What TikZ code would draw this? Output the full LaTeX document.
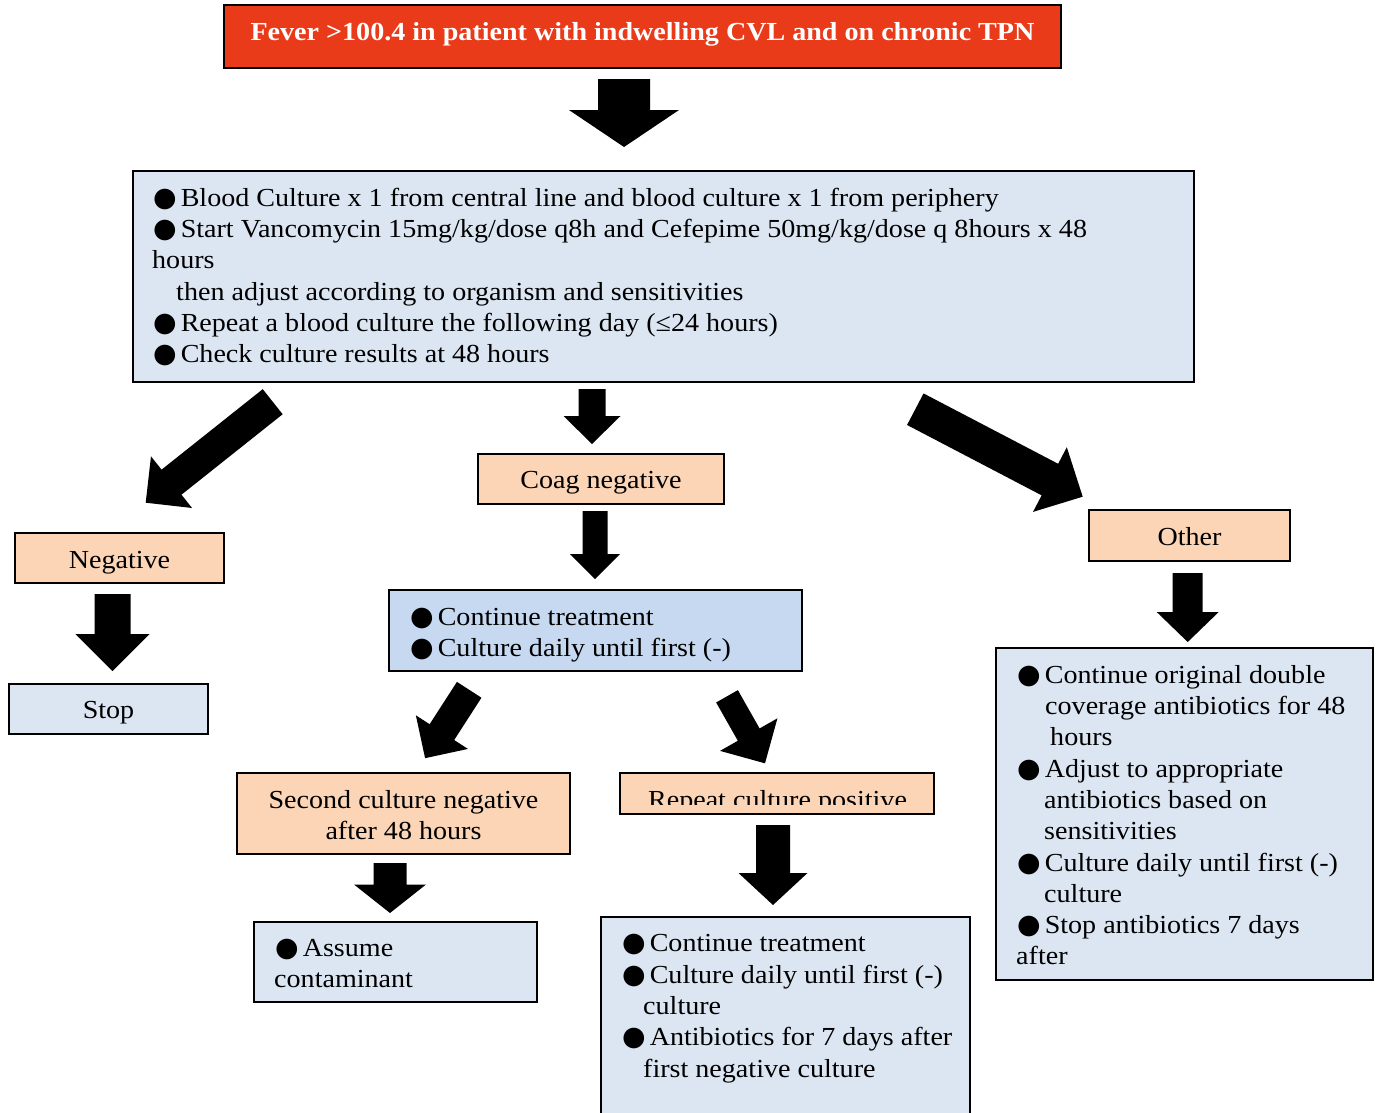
\documentclass[tikz,border=0pt]{standalone}
\usepackage{fontspec}
\setmainfont{Liberation Serif}[FakeStretch=1.08]
\newfontfamily\symfont{DejaVu Sans}
\usetikzlibrary{calc}

\definecolor{titlered}{RGB}{233,58,26}
\definecolor{paleblue}{RGB}{220,230,242}
\definecolor{midblue}{RGB}{198,217,241}
\definecolor{peach}{RGB}{251,213,181}

% large round bullet followed by a small gap
\newcommand\bul{{\fontsize{27}{27}\symfont ●}\hspace{4pt}}

% thick block arrow from coordinate #1 to coordinate #2
% #3 half shaft width, #4 half head width, #5 head length
\newcommand\blockarrow[5]{%
  \fill[black] let \p1=(#1), \p2=(#2),
    \n1={atan2(\y2-\y1,\x2-\x1)}, \n2={veclen(\x2-\x1,\y2-\y1)} in
    [shift={(\p1)}, rotate=\n1]
    (0,#3) -- ({\n2-#5},#3) -- ({\n2-#5},#4) -- (\n2,0)
    -- ({\n2-#5},-#4) -- ({\n2-#5},-#3) -- (0,-#3) -- cycle;}

\begin{document}
\begin{tikzpicture}[x=1pt,y=-1pt,
  box/.style={draw=black, line width=1.6pt, inner sep=0pt},
  txt/.style={anchor=base west, inner sep=0pt, font=\fontsize{26}{31}\selectfont},
  ctxt/.style={anchor=base, inner sep=0pt, font=\fontsize{26}{31}\selectfont}]

\useasboundingbox (0,0) rectangle (1376,1112);
\clip (0,0) rectangle (1376,1112);
\fill[white] (0,0) rectangle (1376,1112);

% ---- boxes
\node[box, fill=titlered, minimum width=837pt, minimum height=63pt] (title) at (642.5,36.5) {};
\node[box, fill=paleblue, minimum width=1061pt, minimum height=211pt] (main) at (663.5,276.5) {};
\node[box, fill=peach, minimum width=246pt, minimum height=50pt] (coag) at (601,479) {};
\node[box, fill=peach, minimum width=209pt, minimum height=50pt] (neg) at (119.5,558) {};
\node[box, fill=paleblue, minimum width=199pt, minimum height=50pt] (stop) at (108.5,709) {};
\node[box, fill=midblue, minimum width=413pt, minimum height=81pt] (cont) at (595.5,630.5) {};
\node[box, fill=peach, minimum width=333pt, minimum height=81pt] (second) at (403.5,813.5) {};
\node[box, fill=peach, minimum width=314pt, minimum height=41pt] (repeat) at (777,793.5) {};
\node[box, fill=paleblue, minimum width=283pt, minimum height=80pt] (assume) at (395.5,962) {};
\node[box, fill=paleblue, minimum width=369pt, minimum height=223pt] (treat) at (785.5,1028.5) {};
\node[box, fill=peach, minimum width=201pt, minimum height=51pt] (other) at (1189.5,535.5) {};
\node[box, fill=paleblue, minimum width=377pt, minimum height=332pt] (orig) at (1184.5,814) {};

% ---- texts
\node[anchor=base, inner sep=0pt, text=white, font=\fontsize{26}{31}\selectfont\bfseries] (titletext) at (642.5,40) {Fever >100.4 in patient with indwelling CVL and on chronic TPN};

\node[txt] (m1) at (153,206) {\bul Blood Culture x 1 from central line and blood culture x 1 from periphery};
\node[txt] (m2) at (153,237.3) {\bul Start Vancomycin 15mg/kg/dose q8h and Cefepime 50mg/kg/dose q 8hours x 48};
\node[txt] (m3) at (152,268.6) {hours};
\node[txt] (m4) at (176,300) {then adjust according to organism and sensitivities};
\node[txt] (m5) at (153,331.3) {\bul Repeat a blood culture the following day (≤24 hours)};
\node[txt] (m6) at (153,362.6) {\bul Check culture results at 48 hours};

\node[ctxt] (coagtext) at (601,488) {Coag negative};
\node[ctxt] (negtext) at (119.5,568) {Negative};
\node[ctxt] (stoptext) at (108.5,718) {Stop};
\node[ctxt] (othertext) at (1189.5,545) {Other};

\node[txt] (c1) at (410,625) {\bul Continue treatment};
\node[txt] (c2) at (410,656) {\bul Culture daily until first (-)};

\node[ctxt] (s1) at (403.5,808) {Second culture negative};
\node[ctxt] (s2) at (403.5,839) {after 48 hours};

\begin{scope}
  \clip (620,773) rectangle (934,804.5);
  \node[ctxt] (reptext) at (777.5,808) {Repeat culture positive};
\end{scope}

\node[txt] (a1) at (275,956) {\bul Assume};
\node[txt] (a2) at (274,987) {contaminant};

\node[txt] (t1) at (622,951) {\bul Continue treatment};
\node[txt] (t2) at (622,983) {\bul Culture daily until first (-)};
\node[txt] (t3) at (643,1014) {culture};
\node[txt] (t4) at (622,1045) {\bul Antibiotics for 7 days after};
\node[txt] (t5) at (643,1077) {first negative culture};

\node[txt] (o1) at (1017,683) {\bul Continue original double};
\node[txt] (o2) at (1045,714) {coverage antibiotics for 48};
\node[txt] (o3) at (1050,745) {hours};
\node[txt] (o4) at (1017,777) {\bul Adjust to appropriate};
\node[txt] (o5) at (1044,808) {antibiotics based on};
\node[txt] (o6) at (1044,839) {sensitivities};
\node[txt] (o7) at (1017,871) {\bul Culture daily until first (-)};
\node[txt] (o8) at (1044,902) {culture};
\node[txt] (o9) at (1017,933) {\bul Stop antibiotics 7 days};
\node[txt] (o10) at (1016,964) {after};

% ---- arrow end points
\coordinate (p1s) at (624,79);      \coordinate (p1e) at (624,147);
\coordinate (p2s) at (592,389);     \coordinate (p2e) at (592,444);
\coordinate (p3s) at (595,511);     \coordinate (p3e) at (595,579);
\coordinate (p4s) at (112.5,594);   \coordinate (p4e) at (112.5,671);
\coordinate (p5s) at (272.7,401.7); \coordinate (p5e) at (145.7,502.7);
\coordinate (p6s) at (915.3,409.2); \coordinate (p6e) at (1082.7,496.7);
\coordinate (p7s) at (469.2,689.8); \coordinate (p7e) at (425,758.3);
\coordinate (p8s) at (727,696.3);   \coordinate (p8e) at (765,763.3);
\coordinate (p9s) at (390,863);     \coordinate (p9e) at (390,913);
\coordinate (p10s) at (1187.7,573); \coordinate (p10e) at (1187.7,642);
\coordinate (p11s) at (773,825);    \coordinate (p11e) at (773,905);

% ---- arrows
\blockarrow{p1s}{p1e}{26}{55}{37}
\blockarrow{p2s}{p2e}{13.5}{28.5}{28}
\blockarrow{p3s}{p3e}{12.5}{25}{25}
\blockarrow{p4s}{p4e}{18}{37}{37}
\blockarrow{p5s}{p5e}{16}{33}{33}
\blockarrow{p6s}{p6e}{17.8}{36.5}{37}
\blockarrow{p7s}{p7e}{14.6}{31}{31}
\blockarrow{p8s}{p8e}{12.5}{33}{33}
\blockarrow{p9s}{p9e}{16.5}{36}{28.5}
\blockarrow{p10s}{p10e}{15}{31}{30}
\blockarrow{p11s}{p11e}{17}{34.5}{32}

\end{tikzpicture}
\end{document}
